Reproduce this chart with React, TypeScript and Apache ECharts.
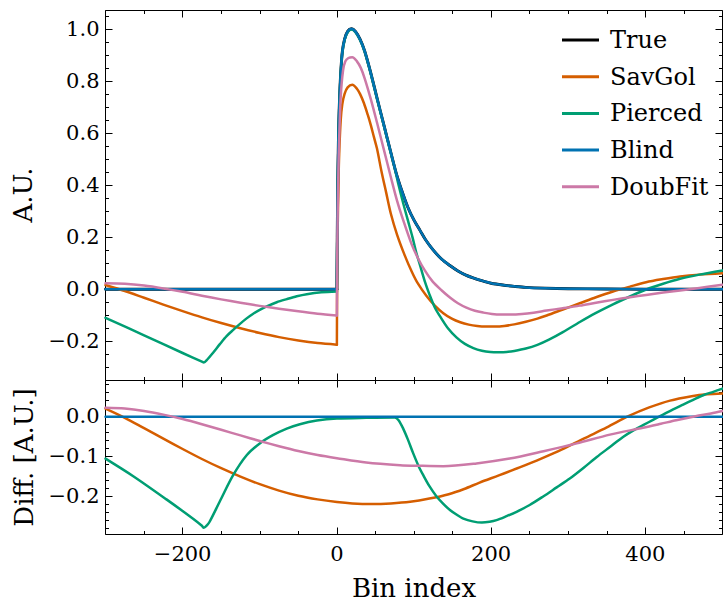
import React, { useEffect, useRef } from 'react';
import * as echarts from 'echarts';

const FONT = "'DejaVu Serif', serif";

const seriesNames = ['True', 'SavGol', 'Pierced', 'Blind', 'DoubFit'];
const seriesColors = ['#000000', '#D55E00', '#009E73', '#0072B2', '#CC79A7'];

const xMin = -300;
const xMax = 500;
const topYMin = -0.3506;
const topYMax = 1.0703;
const diffYMin = -0.2958;
const diffYMax = 0.0893;

const xMajorTicks = [-200, 0, 200, 400];
const xMinorTicks = [-300, -250, -200, -150, -100, -50, 0, 50, 100, 150, 200, 250, 300, 350, 400, 450, 500];
const topYMajorTicks = [-0.2, 0, 0.2, 0.4, 0.6, 0.8, 1.0];
const topYMinorTicks = [-0.35, -0.3, -0.25, -0.2, -0.15, -0.1, -0.05, 0, 0.05, 0.1, 0.15, 0.2, 0.25, 0.3, 0.35, 0.4, 0.45, 0.5, 0.55, 0.6, 0.65, 0.7, 0.75, 0.8, 0.85, 0.9, 0.95, 1.0, 1.05];
const diffYMajorTicks = [-0.2, -0.1, 0];
const diffYMinorTicks = [-0.28, -0.26, -0.24, -0.22, -0.2, -0.18, -0.16, -0.14, -0.12, -0.1, -0.08, -0.06, -0.04, -0.02, 0, 0.02, 0.04, 0.06, 0.08];

// ---- top panel (signal) ----
const trueCurve = [
  [-300, 0], [0, 0], [0.5, 0.2], [1, 0.36], [2, 0.57], [3, 0.69], [4, 0.77], [5, 0.83], [7, 0.91], [10, 0.96],
  [14, 0.99], [19, 1.0], [24, 0.99], [30, 0.96], [36, 0.915], [44, 0.83], [52, 0.735], [61, 0.63], [70, 0.525],
  [77, 0.445], [84, 0.38], [92, 0.315], [100, 0.265], [108, 0.225], [115, 0.19], [125, 0.15], [136, 0.115],
  [147, 0.09], [157, 0.07], [168, 0.053], [180, 0.04], [190, 0.031], [200, 0.023], [215, 0.016], [230, 0.011],
  [245, 0.007], [270, 0.004], [300, 0.002], [350, 0.001], [400, 0], [500, 0],
];

const blindCurve = trueCurve;

const savgolCurve = [
  [-300, 0.016], [-275, -0.007], [-250, -0.033], [-225, -0.059], [-200, -0.084], [-175, -0.108], [-150, -0.13],
  [-125, -0.15], [-100, -0.168], [-75, -0.184], [-50, -0.197], [-25, -0.207], [0, -0.213],
  [0.4, 0.05], [1, 0.22], [2, 0.4], [3, 0.52], [5, 0.65],
  [7, 0.71], [10, 0.75], [14, 0.775], [20, 0.785], [26, 0.77], [30, 0.75], [35, 0.715], [40, 0.67], [44, 0.63],
  [48, 0.585], [52, 0.54], [58, 0.45], [64, 0.37], [70, 0.29], [78, 0.21], [88, 0.13], [97, 0.068], [105, 0.022],
  [116, -0.025], [127, -0.063], [138, -0.092], [149, -0.113], [160, -0.127], [171, -0.136], [182, -0.141],
  [193, -0.143], [205, -0.143], [217, -0.141], [230, -0.135], [245, -0.125], [260, -0.113], [272, -0.101],
  [293, -0.078], [315, -0.054], [336, -0.031], [358, -0.009], [380, 0.01], [401, 0.027], [423, 0.039],
  [445, 0.049], [470, 0.056], [500, 0.061],
];

const piercedCurve = [
  [-300, -0.11], [-250, -0.177], [-200, -0.245], [-175, -0.278], [-172.5, -0.281], [-168, -0.27], [-160, -0.242],
  [-152, -0.212], [-143, -0.18], [-134, -0.155], [-126, -0.134], [-117, -0.112], [-108, -0.093], [-100, -0.079],
  [-91, -0.066], [-78, -0.05], [-65, -0.038], [-52, -0.027], [-39, -0.019], [-20, -0.012], [0, -0.009],
  [0.5, 0.197], [1, 0.357], [2, 0.567], [3, 0.687], [4, 0.767], [5, 0.827], [7, 0.907], [10, 0.957], [14, 0.987],
  [19, 0.997], [24, 0.987], [30, 0.957], [36, 0.912], [44, 0.827], [52, 0.732], [61, 0.627], [70, 0.522],
  [75, 0.465], [80, 0.4], [86, 0.33], [92, 0.265], [98, 0.2], [103, 0.14], [108, 0.09], [114, 0.03], [120, -0.02],
  [127, -0.07], [135, -0.11], [144, -0.15], [155, -0.185], [166, -0.21], [177, -0.226], [188, -0.236],
  [199, -0.241], [210, -0.242], [220, -0.241], [230, -0.237], [245, -0.228], [260, -0.214], [275, -0.194],
  [293, -0.165], [315, -0.126], [336, -0.091], [358, -0.058], [380, -0.028], [401, -0.001], [423, 0.021],
  [445, 0.04], [470, 0.056], [500, 0.072],
];

const doubfitCurve = [
  [-300, 0.023], [-275, 0.021], [-250, 0.014], [-225, 0.003], [-200, -0.01], [-175, -0.025], [-150, -0.039],
  [-125, -0.052], [-100, -0.064], [-75, -0.075], [-50, -0.085], [-25, -0.094], [0, -0.101],
  [0.4, 0.1], [1, 0.28], [2, 0.46], [3, 0.58], [5, 0.74], [8, 0.84], [11, 0.875],
  [15, 0.888], [20, 0.891], [26, 0.875], [31, 0.85], [36, 0.81], [44, 0.73], [52, 0.64], [61, 0.535], [70, 0.43],
  [78, 0.34], [86, 0.265], [97, 0.172], [105, 0.12], [114, 0.072], [124, 0.03], [136, -0.005], [147, -0.033],
  [157, -0.054], [168, -0.071], [179, -0.083], [190, -0.09], [201, -0.095], [213, -0.097], [225, -0.097],
  [240, -0.095], [255, -0.09], [272, -0.082], [293, -0.073], [315, -0.063], [336, -0.052], [358, -0.041],
  [380, -0.031], [401, -0.022], [423, -0.013], [445, -0.005], [470, 0.005], [500, 0.017],
];

// ---- bottom panel (difference to True) ----
const savgolDiff = [
  [-300, 0.019], [-275, -0.004], [-250, -0.03], [-225, -0.056], [-200, -0.082], [-175, -0.107], [-150, -0.13],
  [-125, -0.151], [-100, -0.17], [-75, -0.186], [-50, -0.199], [-25, -0.208], [0, -0.2145], [20, -0.218],
  [45, -0.2195], [70, -0.218], [95, -0.214], [120, -0.206], [145, -0.195], [165, -0.182], [185, -0.166],
  [210, -0.148], [237, -0.128], [265, -0.106], [292, -0.083], [320, -0.056], [350, -0.028], [378, 0.0],
  [405, 0.022], [432, 0.039], [460, 0.05], [480, 0.055], [500, 0.057],
];

const piercedDiff = [
  [-300, -0.106], [-264, -0.15], [-221, -0.208], [-186, -0.257], [-175, -0.274], [-172.5, -0.279], [-168, -0.272],
  [-165, -0.264], [-152, -0.214], [-134.5, -0.1475], [-117, -0.0975], [-100, -0.068], [-83, -0.0475],
  [-65, -0.031], [-48, -0.02], [-26, -0.011], [0, -0.006], [38, -0.004], [75, -0.003], [80, -0.01], [86, -0.031],
  [92, -0.058], [99, -0.093], [106, -0.125], [112, -0.1475], [120, -0.175], [129, -0.2], [138, -0.219],
  [147, -0.235], [156, -0.247], [164, -0.256], [176, -0.263], [188, -0.266], [198, -0.264], [207, -0.26],
  [220, -0.25], [233, -0.239], [250, -0.222], [268, -0.2], [285, -0.178], [302, -0.156], [320, -0.129],
  [337, -0.102], [354, -0.077], [371, -0.052], [384, -0.036], [397, -0.0225], [410, -0.009], [423, 0.004],
  [436, 0.017], [449, 0.029], [462, 0.041], [475, 0.0525], [488, 0.061], [500, 0.069],
];

const blindDiff = [[-300, -0.0015], [500, -0.0015]];

const doubfitDiff = [
  [-300, 0.021], [-275, 0.019], [-250, 0.013], [-225, 0.004], [-200, -0.007], [-175, -0.02], [-150, -0.034],
  [-125, -0.048], [-100, -0.062], [-75, -0.075], [-50, -0.087], [-25, -0.097], [0, -0.105], [38, -0.116],
  [82, -0.1225], [108, -0.124], [138, -0.125], [181, -0.118], [224, -0.106], [268, -0.0875], [311, -0.068],
  [354, -0.046], [397, -0.029], [420, -0.019], [440, -0.01], [465, 0.0], [485, 0.007], [500, 0.013],
];

const minusFmt = (v: number, digits: number | null) => {
  const a = Math.abs(v);
  const s = digits === null ? String(Math.round(a)) : a.toFixed(digits);
  return (v < -1e-9 ? '\u2212' : '') + s;
};

const tickLine = { color: '#000', width: 1 };
const noLine = { show: false, onZero: false };

function makeXAxes(grid: number, showLabels: boolean) {
  const base = {
    type: 'value',
    gridIndex: grid,
    min: xMin,
    max: xMax,
    axisLine: noLine,
    splitLine: { show: false },
  };
  return [
    {
      ...base,
      position: 'bottom',
      axisTick: { show: true, inside: true, length: 7, customValues: xMajorTicks, lineStyle: tickLine },
      axisLabel: {
        show: showLabels,
        customValues: xMajorTicks,
        margin: 9,
        color: '#000',
        fontFamily: FONT,
        fontSize: 21,
        formatter: (v: number) => minusFmt(v, null),
      },
    },
    {
      ...base,
      position: 'bottom',
      axisTick: { show: true, inside: true, length: 3.5, customValues: xMinorTicks, lineStyle: tickLine },
      axisLabel: { show: false },
    },
    {
      ...base,
      position: 'top',
      axisTick: { show: true, inside: true, length: 7, customValues: xMajorTicks, lineStyle: tickLine },
      axisLabel: { show: false },
    },
    {
      ...base,
      position: 'top',
      axisTick: { show: true, inside: true, length: 3.5, customValues: xMinorTicks, lineStyle: tickLine },
      axisLabel: { show: false },
    },
  ];
}

function makeYAxes(grid: number, min: number, max: number, major: number[], minor: number[]) {
  const base = {
    type: 'value',
    gridIndex: grid,
    min,
    max,
    axisLine: noLine,
    splitLine: { show: false },
  };
  return [
    {
      ...base,
      position: 'left',
      axisTick: { show: true, inside: true, length: 7, customValues: major, lineStyle: tickLine },
      axisLabel: {
        show: true,
        customValues: major,
        margin: 6,
        color: '#000',
        fontFamily: FONT,
        fontSize: 21,
        formatter: (v: number) => minusFmt(v, 1),
      },
    },
    {
      ...base,
      position: 'left',
      axisTick: { show: true, inside: true, length: 3.5, customValues: minor, lineStyle: tickLine },
      axisLabel: { show: false },
    },
    {
      ...base,
      position: 'right',
      axisTick: { show: true, inside: true, length: 7, customValues: major, lineStyle: tickLine },
      axisLabel: { show: false },
    },
    {
      ...base,
      position: 'right',
      axisTick: { show: true, inside: true, length: 3.5, customValues: minor, lineStyle: tickLine },
      axisLabel: { show: false },
    },
  ];
}

function lineSeries(name: string, data: number[][], axisIndex: number, width: number) {
  const color = seriesColors[seriesNames.indexOf(name)];
  return {
    type: 'line',
    name,
    data,
    xAxisIndex: axisIndex,
    yAxisIndex: axisIndex,
    showSymbol: false,
    symbol: 'none',
    smooth: 0.3,
    color,
    itemStyle: { color },
    lineStyle: { color, width, join: 'round', cap: 'round' },
    emphasis: { disabled: true },
  };
}

// The signal curves jump at bin 0; draw the part before and after the jump
// as two pieces so that the smoothing keeps the jump sharp.
function splitAtJump(data: number[][]) {
  const i = data.findIndex((p) => p[0] === 0);
  return [data.slice(0, i + 1), data.slice(i)];
}

function topSeries(name: string, data: number[][], width: number) {
  const [pre, post] = splitAtJump(data);
  return [lineSeries(name, pre, 0, width), lineSeries(name, post, 0, width)];
}

export default function App() {
  const ref = useRef<HTMLDivElement>(null);

  useEffect(() => {
    document.body.style.margin = '0';
    if (!ref.current) return;
    const chart = echarts.init(ref.current, null, { renderer: 'svg' });
    const option = {
      animation: false,
      backgroundColor: '#ffffff',
      grid: [
        { left: 105.5, top: 10.5, width: 617, height: 370, show: true, borderColor: '#000', borderWidth: 1, backgroundColor: 'transparent' },
        { left: 105.5, top: 380.5, width: 617, height: 154, show: true, borderColor: '#000', borderWidth: 1, backgroundColor: 'transparent' },
      ],
      xAxis: [...makeXAxes(0, false), ...makeXAxes(1, true)],
      yAxis: [
        ...makeYAxes(0, topYMin, topYMax, topYMajorTicks, topYMinorTicks),
        ...makeYAxes(1, diffYMin, diffYMax, diffYMajorTicks, diffYMinorTicks),
      ],
      legend: {
        data: seriesNames,
        orient: 'vertical',
        left: 562,
        top: 26,
        padding: 0,
        itemWidth: 37,
        itemHeight: 3,
        itemGap: 8.7,
        icon: 'rect',
        selectedMode: false,
        textStyle: {
          fontFamily: FONT,
          fontSize: 24,
          color: '#000',
          lineHeight: 24,
          padding: [0, 0, 4, 6],
        },
      },
      graphic: [
        {
          type: 'text',
          x: 22.5,
          y: 195,
          rotation: Math.PI / 2,
          style: { text: 'A.U.', fontFamily: FONT, fontSize: 26, fill: '#000', textAlign: 'center', textVerticalAlign: 'middle', align: 'center', verticalAlign: 'middle' },
        },
        {
          type: 'text',
          x: 23.5,
          y: 457.5,
          rotation: Math.PI / 2,
          style: { text: 'Diff. [A.U.]', fontFamily: FONT, fontSize: 26, fill: '#000', textAlign: 'center', textVerticalAlign: 'middle', align: 'center', verticalAlign: 'middle' },
        },
        {
          type: 'text',
          x: 414,
          y: 588,
          style: { text: 'Bin index', fontFamily: FONT, fontSize: 26, fill: '#000', textAlign: 'center', textVerticalAlign: 'middle', align: 'center', verticalAlign: 'middle' },
        },
      ],
      series: [
        ...topSeries('True', trueCurve, 2.9),
        ...topSeries('SavGol', savgolCurve, 2.5),
        ...topSeries('Pierced', piercedCurve, 2.5),
        ...topSeries('Blind', blindCurve, 2.5),
        ...topSeries('DoubFit', doubfitCurve, 2.5),
        lineSeries('SavGol', savgolDiff, 4, 2.5),
        lineSeries('Pierced', piercedDiff, 4, 2.5),
        lineSeries('Blind', blindDiff, 4, 2.5),
        lineSeries('DoubFit', doubfitDiff, 4, 2.5),
      ],
    };
    chart.setOption(option as any);
    return () => {
      chart.dispose();
    };
  }, []);

  return (
    <div
      ref={ref}
      style={{ position: 'absolute', left: 0, top: 0, width: '723px', height: '605px' }}
    />
  );
}
